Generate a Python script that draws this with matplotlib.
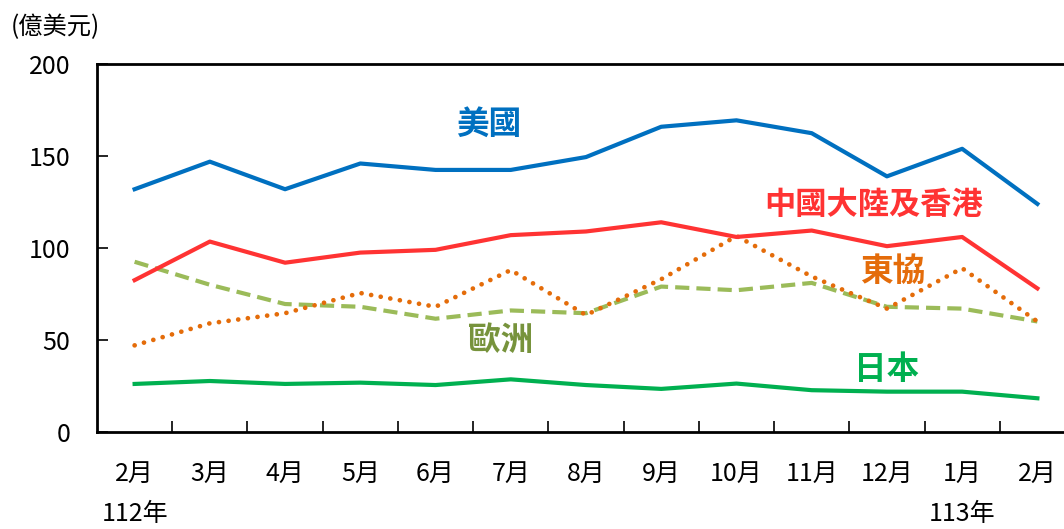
import matplotlib
matplotlib.use("Agg")
import matplotlib.pyplot as plt
from matplotlib.ticker import FixedLocator, NullFormatter
import numpy as np

plt.rcParams['font.family'] = ['Noto Sans CJK TC', 'DejaVu Sans']

months = ['2月', '3月', '4月', '5月', '6月', '7月', '8月', '9月', '10月', '11月', '12月', '1月', '2月']
years = ['112年', '113年']
usa = [132, 147, 132, 146, 142.5, 142.5, 149.5, 166, 169.5, 162.5, 139, 154, 124]
china_hk = [82.5, 103.5, 92, 97.5, 99, 107, 109, 114, 106, 109.5, 101, 106, 78]
asean = [47, 59, 64.5, 75.5, 68, 88, 63.5, 83, 106.5, 84.5, 67, 89, 60]
europe = [92.5, 80, 69.5, 68, 61.5, 66, 64.5, 79, 77, 81, 68, 67, 60]
japan = [26, 27.6, 26, 26.7, 25.4, 28.5, 25.4, 23.3, 26.2, 22.6, 21.8, 21.8, 18.2]

x = np.arange(len(months))

fig = plt.figure(figsize=(10.64, 5.29), dpi=100)
ax = fig.add_axes([97/1064, 1 - 431.7/529, (1075 - 97)/1064, (431.7 - 64.3)/529])

ax.plot(x, usa, color='#0070C0', lw=3, zorder=5)
ax.plot(x, china_hk, color='#FF3333', lw=3, zorder=5)
ax.plot(x, asean, color='#E46C0A', lw=3.4, linestyle=(0, (0.01, 2.05)),
        dash_capstyle='round', zorder=4)
ax.plot(x, europe, color='#9BBB59', lw=3, linestyle=(0, (3.4, 1.7)),
        dash_capstyle='butt', zorder=3)
ax.plot(x, japan, color='#00B050', lw=3, zorder=5)

ax.set_xlim(-0.5, len(months) - 0.5)
ax.set_ylim(0, 200)

# y axis
ax.set_yticks([0, 50, 100, 150, 200])
ax.tick_params(axis='y', direction='in', length=8, width=1.2, labelsize=18, pad=19)

# x axis: labels at centers, tick marks at boundaries
ax.set_xticks(x)
ax.set_xticklabels(months)
ax.tick_params(axis='x', which='major', length=0, labelsize=18, pad=21)
ax.xaxis.set_minor_locator(FixedLocator(np.arange(0.5, len(months) - 0.5, 1)))
ax.xaxis.set_minor_formatter(NullFormatter())
ax.tick_params(axis='x', which='minor', direction='in', length=8, width=1.2)

for s in ax.spines.values():
    s.set_linewidth(2)
    s.set_color('black')

# year labels
ax.text(x[0], -45, years[0], ha='center', va='center', fontsize=18, clip_on=False)
ax.text(x[11], -45, years[1], ha='center', va='center', fontsize=18, clip_on=False)

# unit label
fig.text(11/1064, 1 - 27/529, '(億美元)', ha='left', va='center', fontsize=17.5)

# series labels
ax.text(4.71, 167.5, '美國', color='#0070C0', fontsize=23.5, fontweight='bold', ha='center', va='center')
ax.text(9.82, 123.4, '中國大陸及香港', color='#FF3333', fontsize=22.5, fontweight='bold', ha='center', va='center')
ax.text(10.08, 87.1, '東協', color='#E46C0A', fontsize=23.5, fontweight='bold', ha='center', va='center')
ax.text(4.87, 49.9, '歐洲', color='#77933C', fontsize=23.5, fontweight='bold', ha='center', va='center')
ax.text(10.0, 33.6, '日本', color='#00B050', fontsize=23.5, fontweight='bold', ha='center', va='center')

fig.savefig('out.png', dpi=100)
